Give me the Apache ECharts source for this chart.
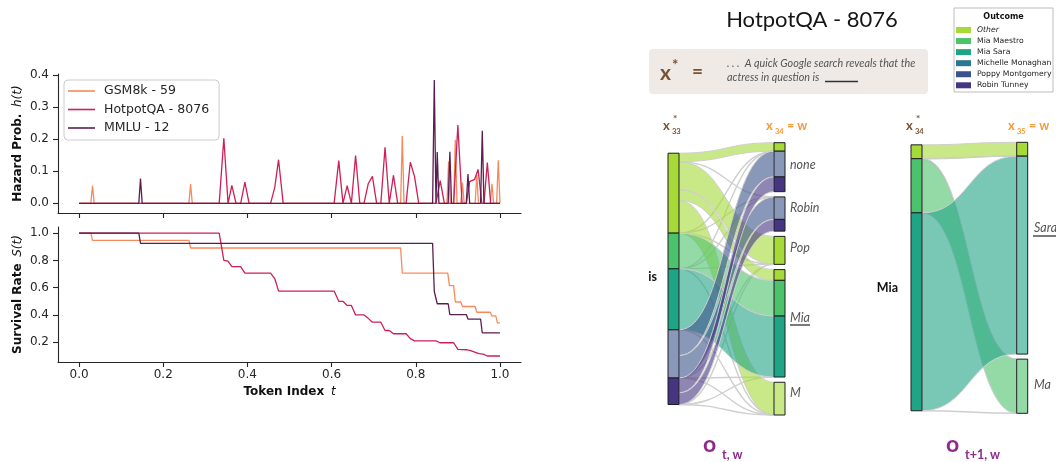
<!DOCTYPE html>
<html><head><meta charset="utf-8">
<script src="https://cdn.jsdelivr.net/npm/echarts@6/dist/echarts.min.js"></script>
<style>html,body{margin:0;padding:0;background:#fff}#c{width:1056px;height:462px}</style>
</head><body><div id="c"></div>
<script>
// ---------------- DATA ----------------
const SERIES_NAMES = ['GSM8k - 59', 'HotpotQA - 8076', 'MMLU - 12'];
const X_TICKS = [0, 0.2, 0.4, 0.6, 0.8, 1.0];
const HAZARD_TICKS = [0, 0.1, 0.2, 0.3, 0.4];
const SURV_TICKS = [0.2, 0.4, 0.6, 0.8, 1.0];

const HAZARD_GSM = [[0,0],[0.028,0],[0.032,0.055],[0.036,0],[0.261,0],[0.265,0.06],[0.269,0],[0.764,0],[0.768,0.21],[0.772,0],
  [0.874,0],[0.878,0.13],[0.882,0],[0.890,0],[0.894,0.198],[0.898,0],[0.907,0],[0.911,0.065],[0.915,0],[0.941,0],[0.945,0.09],[0.949,0],
  [0.977,0],[0.981,0.061],[0.985,0],[0.992,0],[0.996,0.134],[1.0,0]];
const HAZARD_HOTPOT = [[0,0],[0.333,0],[0.344,0.203],[0.354,0],[0.363,0.056],[0.373,0],[0.384,0],[0.394,0.066],[0.404,0],
  [0.455,0],[0.465,0.05],[0.474,0.136],[0.485,0],[0.606,0],[0.617,0.133],[0.627,0],[0.637,0.055],[0.647,0],[0.657,0.149],[0.667,0],
  [0.677,0],[0.687,0.061],[0.697,0.084],[0.707,0],[0.717,0],[0.727,0.175],[0.737,0],[0.747,0.087],[0.757,0],[0.777,0],[0.787,0.128],
  [0.797,0.084],[0.807,0],[0.848,0],[0.858,0.071],[0.868,0],[0.890,0],[0.900,0.244],[0.910,0],[0.920,0],[0.928,0.068],[0.940,0.075],
  [0.948,0.106],[0.957,0],[0.962,0],[0.970,0.127],[0.978,0],[1.0,0]];
const HAZARD_MMLU = [[0,0],[0.142,0],[0.146,0.077],[0.150,0],[0.840,0],[0.844,0.384],[0.848,0],[0.851,0.160],[0.855,0],
  [0.877,0],[0.881,0.161],[0.885,0],[0.920,0],[0.924,0.091],[0.928,0],[0.954,0],[0.958,0.226],[0.962,0],[1.0,0]];

const SURV_GSM = [[0,1],[0.028,1],[0.032,0.947],[0.261,0.947],[0.265,0.891],[0.764,0.891],[0.768,0.707],[0.876,0.707],[0.880,0.615],
  [0.890,0.615],[0.894,0.495],[0.907,0.495],[0.911,0.462],[0.941,0.462],[0.945,0.42],[0.977,0.42],[0.981,0.393],[0.990,0.393],[0.994,0.342],[1.0,0.342]];
const SURV_HOTPOT = [[0,1],[0.333,1],[0.344,0.80],[0.354,0.795],[0.363,0.755],[0.384,0.755],[0.394,0.707],[0.455,0.707],[0.465,0.667],
  [0.474,0.575],[0.606,0.575],[0.617,0.50],[0.627,0.50],[0.637,0.47],[0.647,0.47],[0.657,0.40],[0.677,0.40],[0.687,0.375],[0.697,0.347],
  [0.717,0.347],[0.727,0.286],[0.737,0.286],[0.747,0.262],[0.777,0.262],[0.787,0.226],[0.797,0.21],[0.848,0.21],[0.858,0.196],
  [0.890,0.196],[0.900,0.148],[0.920,0.145],[0.930,0.138],[0.940,0.128],[0.950,0.116],[0.960,0.113],[0.970,0.099],[1.0,0.099]];
const SURV_MMLU = [[0,1],[0.142,1],[0.146,0.925],[0.840,0.925],[0.844,0.572],[0.848,0.572],[0.851,0.482],[0.877,0.482],[0.881,0.403],
  [0.920,0.403],[0.924,0.370],[0.954,0.370],[0.958,0.268],[1.0,0.268]];

const OUTCOMES = ['Other', 'Mia Maestro', 'Mia Sara', 'Michelle Monaghan', 'Poppy Montgomery', 'Robin Tunney'];

// Sankey 1: x*_33 = "is" -> x_34
const S1_SOURCE = 'is';
const S1_TARGETS = ['none', 'Robin', 'Pop', 'Mia', 'M'];
const S1_FLOWS = [
  ['Other','none',0.034], ['Other','Pop',0.112], ['Other','Mia',0.043], ['Other','M',0.131],
  ['Mia Maestro','Mia',0.143],
  ['Mia Sara','Mia',0.244],
  ['Poppy Montgomery','none',0.103], ['Poppy Montgomery','Robin',0.090],
  ['Robin Tunney','none',0.059], ['Robin Tunney','Robin',0.047]
];
const S1_TRACES = [
  ['Other','Robin'],
  ['Mia Maestro','none'],['Mia Maestro','Robin'],['Mia Maestro','Pop'],['Mia Maestro','M'],
  ['Mia Sara','none'],['Mia Sara','Robin'],['Mia Sara','Pop'],['Mia Sara','M'],
  ['Poppy Montgomery','Pop'],['Poppy Montgomery','Mia'],['Poppy Montgomery','M'],
  ['Robin Tunney','Pop'],['Robin Tunney','Mia'],['Robin Tunney','M']
];
// Sankey 2: x*_34 = "Mia" -> x_35
const S2_SOURCE = 'Mia';
const S2_TARGETS = ['Sara', 'Ma'];
const S2_FLOWS = [['Other','Sara',0.052], ['Mia Maestro','Ma',0.203], ['Mia Sara','Sara',0.742]];
const S2_TRACES = [['Other','Ma'], ['Mia Maestro','Sara'], ['Mia Sara','Ma']];

// ---------------- STYLE ----------------
const LINE_COLORS = ['#f78a5c', '#cf1f55', '#5b1e52'];
const OUTCOME_COLORS = ['#a5da38', '#4cc26c', '#20a486', '#2a788e', '#3b528b', '#463682'];
const PALE = {
  s1: { left: ['Poppy Montgomery'], right: { none: ['Poppy Montgomery'], Robin: ['Poppy Montgomery'], M: ['Other'] } },
  s2: { left: [], right: { Sara: ['Mia Sara'], Ma: ['Mia Maestro'] } }
};
const NODE_W = 11;
const BROWN = '#7b5230', ORANGE = '#f49b3c', PURPLE = '#8f2a8e';

function tint(hex, a) {
  const n = parseInt(hex.slice(1), 16);
  const r = n >> 16, g = (n >> 8) & 255, b = n & 255;
  const m = v => Math.round(255 - a * (255 - v));
  return 'rgb(' + m(r) + ',' + m(g) + ',' + m(b) + ')';
}
function rgba(hex, a) {
  const n = parseInt(hex.slice(1), 16);
  return 'rgba(' + (n >> 16) + ',' + ((n >> 8) & 255) + ',' + (n & 255) + ',' + a + ')';
}

// ---------------- SANKEY LAYOUT ----------------
function layoutSankey(targets, flows, traces, gap, pale) {
  const links = flows.map(f => ({ o: OUTCOMES.indexOf(f[0]), t: targets.indexOf(f[1]), m: f[2], trace: false }))
    .concat(traces.map(f => ({ o: OUTCOMES.indexOf(f[0]), t: targets.indexOf(f[1]), m: 0, trace: true })));
  const outTot = OUTCOMES.map((_, i) => links.filter(l => l.o === i).reduce((s, l) => s + l.m, 0));
  const tgtTot = targets.map((_, j) => links.filter(l => l.t === j).reduce((s, l) => s + l.m, 0));
  const leftTotal = outTot.reduce((a, b) => a + b, 0);
  const rightTotal = tgtTot.reduce((a, b) => a + b, 0) + gap * (targets.length - 1);
  const total = Math.max(leftTotal, rightTotal);
  let y = (total - leftTotal) / 2;
  const outStart = outTot.map(v => { const s = y; y += v; return s; });
  y = (total - rightTotal) / 2;
  const tgtStart = tgtTot.map(v => { const s = y; y += v + gap; return s; });
  OUTCOMES.forEach((_, i) => {
    let c = outStart[i];
    links.filter(l => l.o === i).sort((a, b) => a.t - b.t || a.m - b.m).forEach(l => { l.y0a = c; c += l.m; l.y0b = c; });
  });
  const items = [];
  targets.forEach((name, j) => {
    let c = tgtStart[j];
    links.filter(l => l.t === j).sort((a, b) => a.o - b.o).forEach(l => { l.y1a = c; c += l.m; l.y1b = c; });
  });
  links.filter(l => l.trace).forEach(l => items.push({ v: [0, l.y0a, l.y0b, l.y1a, l.y1b, l.o] }));
  links.filter(l => !l.trace).forEach(l => items.push({ v: [1, l.y0a, l.y0b, l.y1a, l.y1b, l.o] }));
  OUTCOMES.forEach((name, i) => {
    if (outTot[i] > 0) items.push({ v: [2, 0, outStart[i], outStart[i] + outTot[i], 0, i], pale: pale.left.includes(name) });
  });
  targets.forEach((name, j) => {
    links.filter(l => l.t === j && l.m > 0).sort((a, b) => a.o - b.o).forEach(l => {
      items.push({ v: [2, 1, l.y1a, l.y1b, 0, l.o], pale: (pale.right[name] || []).includes(OUTCOMES[l.o]) });
    });
  });
  return { total, items };
}

function makeSankeySeries(layout, idx) {
  return {
    type: 'custom', coordinateSystem: 'cartesian2d', xAxisIndex: idx, yAxisIndex: idx, silent: true,
    data: layout.items.map(it => it.v),
    renderItem: function (params, api) {
      const it = layout.items[params.dataIndex];
      const kind = api.value(0);
      const color = OUTCOME_COLORS[api.value(5)];
      if (kind === 2) {
        const col = api.value(1);
        const p0 = api.coord([col, api.value(2)]), p1 = api.coord([col, api.value(3)]);
        const x = col === 0 ? p0[0] : p0[0] - NODE_W;
        return { type: 'rect', shape: { x: x, y: p0[1], width: NODE_W, height: p1[1] - p0[1] },
          style: { fill: it.pale ? tint(color, 0.6) : color, stroke: '#1e1e1e', lineWidth: 1 } };
      }
      const a = api.coord([0, api.value(1)]), b = api.coord([0, api.value(2)]);
      const c = api.coord([1, api.value(3)]), d = api.coord([1, api.value(4)]);
      const x0 = a[0] + NODE_W, x1 = c[0] - NODE_W, xm = (x0 + x1) / 2;
      if (kind === 0) {
        const p = 'M' + x0 + ',' + a[1] + 'C' + xm + ',' + a[1] + ' ' + xm + ',' + c[1] + ' ' + x1 + ',' + c[1];
        return { type: 'path', shape: { pathData: p }, style: { fill: null, stroke: '#cfcfcf', lineWidth: 1.4 } };
      }
      const p = 'M' + x0 + ',' + a[1] + 'C' + xm + ',' + a[1] + ' ' + xm + ',' + c[1] + ' ' + x1 + ',' + c[1] +
        'L' + x1 + ',' + d[1] + 'C' + xm + ',' + d[1] + ' ' + xm + ',' + b[1] + ' ' + x0 + ',' + b[1] + 'Z';
      return { type: 'path', shape: { pathData: p }, style: { fill: rgba(color, 0.6), stroke: '#cfcfcf', lineWidth: 1 } };
    }
  };
}

const L1 = layoutSankey(S1_TARGETS, S1_FLOWS, S1_TRACES, 0.021, PALE.s1);
const L2 = layoutSankey(S2_TARGETS, S2_FLOWS, S2_TRACES, 0.019, PALE.s2);

// ---------------- CHART ----------------
const chart = echarts.init(document.getElementById('c'), null, { renderer: 'canvas' });
const axisCommon = {
  axisLine: { show: true, onZero: false, lineStyle: { color: '#262626', width: 1.1 } },
  axisTick: { show: true, length: 5, lineStyle: { color: '#262626', width: 1.1 } },
  splitLine: { show: false },
  axisLabel: { color: '#262626', fontFamily: 'DejaVu Sans', fontSize: 12 }
};
const nameRich = {
  b: { fontFamily: 'DejaVu Sans', fontWeight: 'bold', fontSize: 12, color: '#111' },
  i: { fontFamily: 'DejaVu Sans', fontStyle: 'italic', fontSize: 12, color: '#111' }
};
function xAx(grid, showLabels, name) {
  return Object.assign({}, axisCommon, {
    type: 'value', gridIndex: grid, min: -0.05, max: 1.05,
    axisTick: Object.assign({}, axisCommon.axisTick, { customValues: X_TICKS }),
    axisLabel: Object.assign({}, axisCommon.axisLabel, { show: showLabels, customValues: X_TICKS, margin: 7, formatter: v => v.toFixed(1) }),
    name: name || '', nameLocation: 'middle', nameGap: 24, nameTextStyle: { rich: nameRich }
  });
}
function yAx(grid, min, max, ticks, name) {
  return Object.assign({}, axisCommon, {
    type: 'value', gridIndex: grid, min: min, max: max,
    axisTick: Object.assign({}, axisCommon.axisTick, { customValues: ticks }),
    axisLabel: Object.assign({}, axisCommon.axisLabel, { customValues: ticks, margin: 9, formatter: v => v.toFixed(1) }),
    name: name, nameLocation: 'middle', nameGap: 34, nameTextStyle: { rich: nameRich }
  });
}
const hidden = (grid, min, max, inverse) => ({ type: 'value', gridIndex: grid, min: min, max: max, inverse: !!inverse, show: false });

function lineSeries(name, data, color, xi) {
  return { type: 'line', name: name, xAxisIndex: xi, yAxisIndex: xi, data: data,
    showSymbol: false, symbol: 'none', lineStyle: { color: color, width: 1.3 }, itemStyle: { color: color },
    emphasis: { disabled: true }, z: 3 };
}

const graphics = [
  { type: 'text', x: 812, y: 20, style: { text: 'HotpotQA - 8076', font: '22px Lato', fill: '#151515', align: 'center', verticalAlign: 'middle' } },
  { type: 'rect', x: 649, y: 49, shape: { width: 279, height: 45, r: 4 }, style: { fill: '#efeae6' } },
  { type: 'text', x: 660, y: 73, style: { text: 'x', font: 'bold 21px Lato', fill: BROWN, verticalAlign: 'middle' } },
  { type: 'text', x: 672, y: 65, style: { text: '*', font: 'bold 15px Lato', fill: BROWN, verticalAlign: 'middle' } },
  { type: 'text', x: 692, y: 72, style: { text: '=', font: 'bold 19px Lato', fill: BROWN, verticalAlign: 'middle' } },
  { type: 'text', x: 727, y: 64, style: { text: '. . .  A quick Google search reveals that the', font: 'italic 10.8px Lato', fill: '#555', verticalAlign: 'middle' } },
  { type: 'text', x: 727, y: 78, style: { text: 'actress in question is', font: 'italic 10.8px Lato', fill: '#555', verticalAlign: 'middle' } },
  { type: 'line', shape: { x1: 825, y1: 81.5, x2: 858, y2: 81.5 }, style: { stroke: '#333', lineWidth: 1.3 } },
  // outcome legend
  { type: 'rect', x: 954, y: 8, shape: { width: 99, height: 84 }, style: { fill: '#fff', stroke: '#bdbdbd', lineWidth: 1 } },
  { type: 'text', x: 1003.5, y: 16.5, style: { text: 'Outcome', font: 'bold 8px "DejaVu Sans"', fill: '#111', align: 'center', verticalAlign: 'middle' } }
];
OUTCOMES.forEach((name, i) => {
  const yc = 30 + i * 11.06;
  graphics.push({ type: 'rect', x: 956, y: yc - 3, shape: { width: 15, height: 6 }, style: { fill: OUTCOME_COLORS[i] } });
  graphics.push({ type: 'text', x: 977, y: yc, style: { text: name, font: (i === 0 ? 'italic ' : '') + '7.7px "DejaVu Sans"', fill: '#222', verticalAlign: 'middle' } });
});
// sankey headers
function header(x, y, sub, star, color, eqw) {
  graphics.push({ type: 'text', x: x, y: y, style: { text: 'x', font: 'bold 13px Lato', fill: color, verticalAlign: 'middle' } });
  if (star) graphics.push({ type: 'text', x: x + 10, y: y - 7, style: { text: '*', font: 'bold 10px Lato', fill: color, verticalAlign: 'middle' } });
  graphics.push({ type: 'text', x: x + 9, y: y + 6, style: { text: sub, font: 'bold 7.5px Lato', fill: color, verticalAlign: 'middle' } });
  if (eqw) graphics.push({ type: 'text', x: x + 21, y: y, style: { text: '= w', font: 'bold 12.5px Lato', fill: color, verticalAlign: 'middle' } });
}
header(663, 126, '33', true, BROWN, false);
header(766, 126, '34', false, ORANGE, true);
header(906, 126, '34', true, BROWN, false);
header(1008, 126, '35', false, ORANGE, true);
// source / target labels
graphics.push({ type: 'text', x: 657, y: 277, style: { text: S1_SOURCE, font: 'bold 12.5px Lato', fill: '#111', align: 'right', verticalAlign: 'middle' } });
graphics.push({ type: 'text', x: 898, y: 288, style: { text: S2_SOURCE, font: 'bold 12.5px Lato', fill: '#111', align: 'right', verticalAlign: 'middle' } });
const TLABEL_Y1 = [165, 208, 248, 318, 393];
S1_TARGETS.forEach((t, j) => graphics.push({ type: 'text', x: 790, y: TLABEL_Y1[j], style: { text: t, font: 'italic 12.5px Lato', fill: '#555', verticalAlign: 'middle' } }));
graphics.push({ type: 'line', shape: { x1: 790, y1: 325, x2: 810, y2: 325 }, style: { stroke: '#222', lineWidth: 1.2 } });
const TLABEL_Y2 = [228, 385];
S2_TARGETS.forEach((t, j) => graphics.push({ type: 'text', x: 1034, y: TLABEL_Y2[j], style: { text: t, font: 'italic 12.5px Lato', fill: '#555', verticalAlign: 'middle' } }));
graphics.push({ type: 'line', shape: { x1: 1033, y1: 236, x2: 1056, y2: 236 }, style: { stroke: '#222', lineWidth: 1.2 } });
// bottom labels
graphics.push({ type: 'text', x: 703, y: 445, style: { text: 'o', font: 'bold 23px Lato', fill: PURPLE, verticalAlign: 'middle' } });
graphics.push({ type: 'text', x: 722, y: 455, style: { text: 't, w', font: 'bold 12.5px Lato', fill: PURPLE, verticalAlign: 'middle' } });
graphics.push({ type: 'text', x: 946, y: 445, style: { text: 'o', font: 'bold 23px Lato', fill: PURPLE, verticalAlign: 'middle' } });
graphics.push({ type: 'text', x: 965, y: 455, style: { text: 't+1, w', font: 'bold 12.5px Lato', fill: PURPLE, verticalAlign: 'middle' } });

chart.setOption({
  animation: false,
  backgroundColor: '#fff',
  grid: [
    { left: 58, top: 74, width: 463, height: 139 },
    { left: 58, top: 227, width: 463, height: 135 },
    { left: 668, top: 142.7, width: 117, height: 272.3 },
    { left: 911, top: 142.3, width: 116.7, height: 271 }
  ],
  xAxis: [xAx(0, false), xAx(1, true, '{b|Token Index}  {i|t}'), hidden(2, 0, 1), hidden(3, 0, 1)],
  yAxis: [
    yAx(0, -0.03, 0.403, HAZARD_TICKS, '{b|Hazard Prob.}  {i|h(t)}'),
    yAx(1, 0.055, 1.045, SURV_TICKS, '{b|Survival Rate}  {i|S(t)}'),
    hidden(2, 0, L1.total, true), hidden(3, 0, L2.total, true)
  ],
  legend: {
    data: SERIES_NAMES, orient: 'vertical', left: 64, top: 80, itemWidth: 27, itemHeight: 1.6, itemGap: 4.5,
    icon: 'rect',
    padding: [4, 10, 5, 4], borderColor: '#cccccc', borderWidth: 1, borderRadius: 4, backgroundColor: 'rgba(255,255,255,0.85)',
    textStyle: { fontFamily: 'DejaVu Sans', fontSize: 12.5, lineHeight: 14, color: '#262626', padding: [0, 0, 0, 4] }, selectedMode: false
  },
  series: [
    lineSeries(SERIES_NAMES[0], HAZARD_GSM, LINE_COLORS[0], 0),
    lineSeries(SERIES_NAMES[1], HAZARD_HOTPOT, LINE_COLORS[1], 0),
    lineSeries(SERIES_NAMES[2], HAZARD_MMLU, LINE_COLORS[2], 0),
    lineSeries(SERIES_NAMES[0], SURV_GSM, LINE_COLORS[0], 1),
    lineSeries(SERIES_NAMES[1], SURV_HOTPOT, LINE_COLORS[1], 1),
    lineSeries(SERIES_NAMES[2], SURV_MMLU, LINE_COLORS[2], 1),
    makeSankeySeries(L1, 2),
    makeSankeySeries(L2, 3)
  ],
  graphic: graphics
});
</script></body></html>
